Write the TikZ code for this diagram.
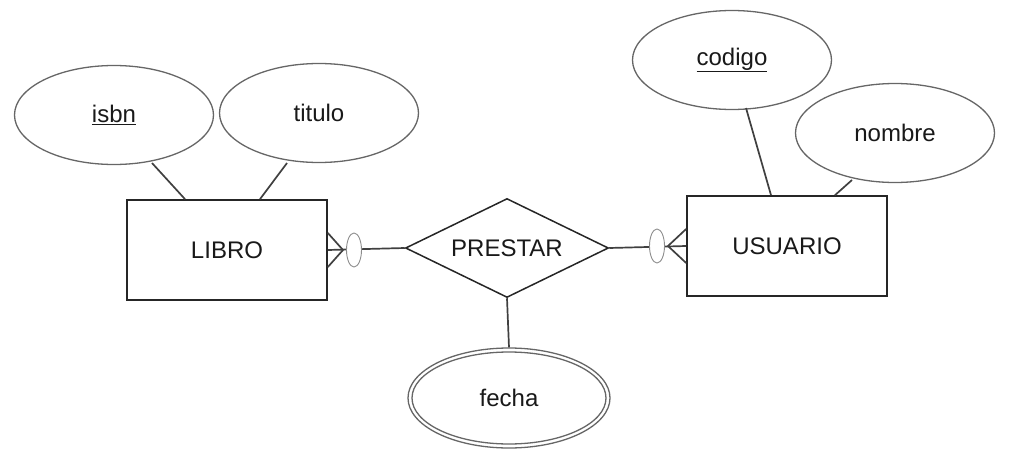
\documentclass[tikz,border=0pt]{standalone}
\usepackage{fontspec}
\setmainfont{Liberation Sans}
\usetikzlibrary{shapes.geometric,calc}
\tikzset{
  er/.style={font=\fontsize{24}{28}\selectfont, text=black!90},
  attr/.style={er, ellipse, draw=black!60, line width=1.3pt, minimum width=199pt, minimum height=99pt, inner sep=0pt, fill=white},
  entity/.style={er, rectangle, draw=black!85, line width=1.7pt, minimum width=200pt, minimum height=100pt, inner sep=0pt},
  rel/.style={er, diamond, draw=black!85, line width=1.5pt, aspect=2.05, minimum width=203pt, minimum height=99pt, inner sep=0pt},
  conn/.style={draw=black!75, line width=1.7pt},
  opt/.style={ellipse, draw=black!45, line width=0.9pt, fill=white, minimum width=15pt, minimum height=34pt, inner sep=0pt}
}
\newcommand{\ulkey}[1]{\underline{#1}}
\begin{document}
\begin{tikzpicture}[x=1pt,y=-1pt]
\useasboundingbox (0,0) rectangle (1018,466);
% attributes
\node[attr] (isbn) at (114,115) {\ulkey{isbn}};
\node[attr] (titulo) at (319,113) {titulo};
\node[attr] (codigo) at (732,60) {\ulkey{codigo}};
\node[attr] (nombre) at (895,133) {nombre};
% entities
\node[entity] (libro) at (227,250) {LIBRO};
\node[entity] (usuario) at (787,246) {USUARIO};
% relationship
\node[rel] (prestar) at (507,248) {PRESTAR};
% multivalued attribute
\node[ellipse, draw=black!60, line width=1.3pt, minimum width=202pt, minimum height=100pt, inner sep=0pt] (fechaout) at (509,398) {};
\node[attr, minimum width=194pt, minimum height=92pt] (fecha) at (509,398) {fecha};
% attribute connectors
\draw[conn] (152,163) -- (libro.north -| 185,0);
\draw[conn] (287,163) -- (libro.north -| 260,0);
\draw[conn] (746,108) -- (usuario.north -| 771,0);
\draw[conn] (852,180) -- (usuario.north -| 835,0);
\draw[conn] (prestar.south) -- (fechaout.north);
% relationship connectors with crow's foot
\coordinate (lapex) at (343,250);
\draw[conn] (libro.east) -- (prestar.west);
\draw[conn] ($(libro.east)+(0,-17)$) -- (lapex) -- ($(libro.east)+(0,17)$);
\node[opt] (lopt) at (354,250) {};
\coordinate (rapex) at (668,246);
\draw[conn] (usuario.west) -- (prestar.east);
\draw[conn] ($(usuario.west)+(0,-17)$) -- (rapex) -- ($(usuario.west)+(0,17)$);
\node[opt] (ropt) at (657,246) {};
\end{tikzpicture}
\end{document}
